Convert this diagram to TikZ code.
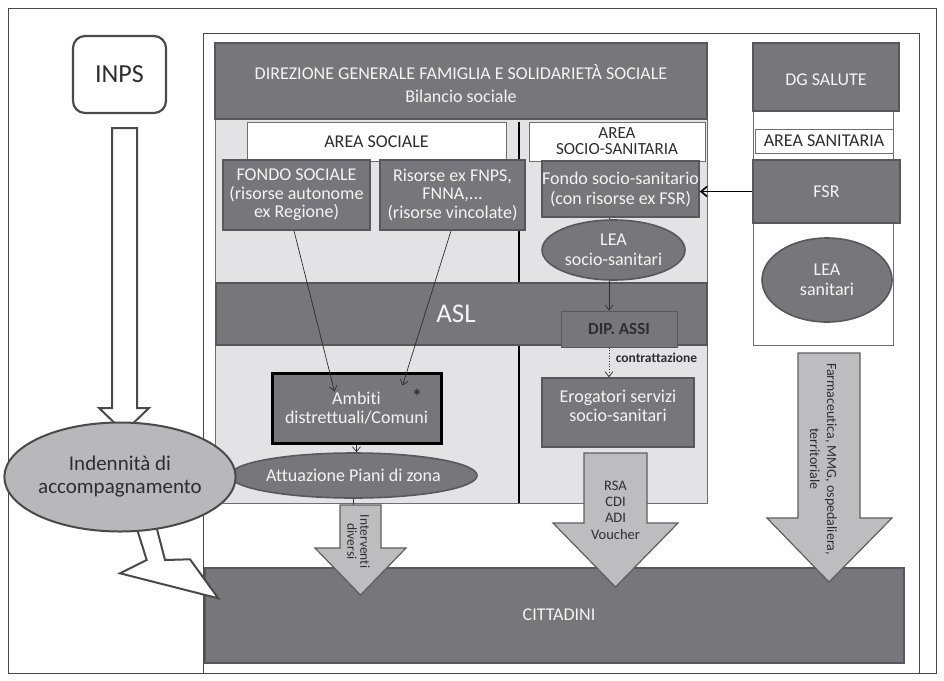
\documentclass[tikz,border=0pt]{standalone}
\usepackage{fontspec}
\setmainfont{Carlito}[Ligatures={NoCommon}]
\usetikzlibrary{arrows.meta,calc,shapes.geometric}
\definecolor{dk}{HTML}{77777B}
\definecolor{dkb}{HTML}{58585C}
\definecolor{pan}{HTML}{E3E3E5}
\definecolor{panb}{HTML}{6E6E72}
\definecolor{arf}{HTML}{BDBDC0}
\definecolor{arb}{HTML}{5E5E62}
\definecolor{elf}{HTML}{B8B8BB}
\definecolor{wt}{HTML}{F4F4F4}
\definecolor{txd}{HTML}{2E2E2E}
\definecolor{frm}{HTML}{4A4A4A}
\newcommand{\fsz}[2]{\fontsize{#1}{#2}\selectfont}
\begin{document}
\begin{tikzpicture}[x=1pt,y=-1pt,
  dbox/.style={draw=dkb,line width=1.6pt,fill=dk,text=wt,align=center,inner sep=0pt,font=\fsz{18}{18.5}},
  wbox/.style={draw=panb,line width=0.8pt,fill=white,text=txd,align=center,inner sep=0pt,font=\fsz{18}{15}},
  dell/.style={ellipse,draw=dkb,line width=1.6pt,fill=dk,text=wt,align=center,inner sep=0pt,font=\fsz{18}{19.5}},
  wtxt/.style={text=wt,align=center,inner sep=0pt},
  thinarr/.style={draw=txd,line width=0.7pt,-{Straight Barb[length=5pt,width=8pt]}},
  blockarr/.style={fill=arf,draw=arb,line width=1.2pt,line join=miter},
  hollow/.style={fill=white,draw=frm,line width=2pt,line join=miter},
  frame/.style={draw=frm,line width=0.9pt}]
\useasboundingbox (0,0) rectangle (944,680);
\fill[white] (0,0) rectangle (944,680);
% frames
\draw[frame] (8,8) rectangle (936,673);
\draw[frame] (203,33) rectangle (919,673);
% INPS
\node[draw=frm,line width=2.2pt,rounded corners=12pt,fill=white,minimum width=93,minimum height=77,inner sep=0pt,font=\fsz{26}{26},text=txd] (inps) at (119.5,74.5) {INPS};
\draw[hollow] (112,128) -- (137,128) -- (137,408) -- (149,408) -- (124,432) -- (99,408) -- (112,408) -- cycle;
% left panel
\node[draw=panb,line width=0.9pt,fill=pan,minimum width=492,minimum height=384,inner sep=0pt] (pnl) at (461,311) {};
\node[dbox,minimum width=492,minimum height=76] (head) at (461,81) {};
\node[wtxt,font=\fsz{18}{23}] (headt) at (461,84) {DIREZIONE GENERALE FAMIGLIA E SOLIDARIETÀ SOCIALE\\Bilancio sociale};
\node[wbox,minimum width=259,minimum height=39] (asoc) at (376.5,141.5) {AREA SOCIALE};
\node[wbox,minimum width=176,minimum height=39,font=\fsz{17}{16}] (ass) at (617,141.5) {AREA\\SOCIO-SANITARIA};
\draw[line width=2.6pt,black] (asoc.north east -| 519,0) -- (519,283);
\draw[line width=2.6pt,black] (519,345) -- (519,503);
\node[dbox,minimum width=147,minimum height=70] (fs) at (296.5,195) {FONDO SOCIALE\\(risorse autonome\\ex Regione)};
\node[dbox,minimum width=145,minimum height=70] (ris) at (452.5,195) {Risorse ex FNPS,\\FNNA,...\\(risorse vincolate)};
\node[dbox,minimum width=157,minimum height=56,font=\fsz{18}{20}] (fss) at (620.5,189) {Fondo socio-sanitario\\(con risorse ex FSR)};
\node[dell,minimum width=143,minimum height=60] (leass) at (613.5,250) {LEA\\socio-sanitari};
\node[dbox,minimum width=491,minimum height=62,font=\fsz{27}{27}] (asl) at (461.5,314) {\hspace*{-11pt}ASL};
\node[fill=dk,draw=dkb,line width=1pt,minimum width=116,minimum height=36,inner sep=0pt,font=\fsz{17}{17}\bfseries,text=txd] (dip) at (619,329) {DIP. ASSI};
\node[dbox,draw=black,line width=3pt,minimum width=169,minimum height=70] (amb) at (356.5,408) {Ambiti\\distrettuali/Comuni};
\node[text=txd,inner sep=0pt,font=\fsz{20}{20}\bfseries] (ast) at (417,396) {*};
\node[dell,minimum width=245,minimum height=45] (att) at (353.5,475.5) {Attuazione Piani di zona};
\node[dbox,minimum width=152,minimum height=69] (erog) at (618,412.5) {};
\node[wtxt,font=\fsz{18}{18.5}] (erogt) at (618,406) {Erogatori servizi\\socio-sanitari};
% right column
\node[draw=panb,line width=0.9pt,fill=white,minimum width=140,minimum height=234,inner sep=0pt] (dgcol) at (823,228) {};
\node[dbox,minimum width=146,minimum height=68] (dgs) at (826,77) {};
\node[wtxt,font=\fsz{18}{18}] (dgst) at (826,80) {DG SALUTE};
\node[wbox,minimum width=138,minimum height=24] (asan) at (824,141) {AREA SANITARIA};
\node[dbox,minimum width=147,minimum height=63] (fsr) at (826.5,191.5) {FSR};
\node[dell,minimum width=130,minimum height=84,font=\fsz{18}{20}] (leasan) at (827,280) {LEA\\sanitari};
% connectors
\coordinate (cx) at (609,0);
\draw[black,line width=1.6pt,-{Straight Barb[length=6pt,width=10pt]}] (fsr.west) -- (fsr.west -| fss.east);
\draw[draw=txd,line width=0.7pt] (cx |- fss.south) -- (cx |- leass.north);
\draw[thinarr] (cx |- leass.south) -- (cx |- dip.north);
\draw[thinarr,dotted] (cx |- dip.south) -- (cx |- erog.north);
\node[text=txd,inner sep=0pt,font=\fsz{13.5}{13.5}\bfseries] (contr) at (656.5,358) {contrattazione};
\draw[thinarr] ($(fs.south)+(-2.5,0)$) -- ($(amb.north west)+(64,20)$);
\draw[thinarr] ($(ris.south)+(-1.5,0)$) -- ($(amb.north west)+(132,14)$);
\draw[thinarr] (amb.south) -- (amb.south |- att.north);
% cittadini
\node[dbox,draw=dkb,minimum width=699,minimum height=95] (cit) at (554.5,615.5) {};
\node[wtxt,font=\fsz{18}{18}] (citt) at (559,615) {CITTADINI};
% block arrows
\coordinate (intop) at (360.5,505);
\draw[draw=txd,line width=0.7pt] (att.south) -- (att.south |- intop);
\draw[blockarr] (340,505) -- (381,505) -- (381,548) -- (406,548) -- (360.5,595) -- (315,548) -- (340,548) -- cycle;
\node[rotate=-90,align=center,inner sep=0pt,text=txd,font=\fsz{13.5}{13}] (intt) at (358.5,541.5) {Interventi\\diversi};
\draw[blockarr] (584,453) -- (647,453) -- (647,523) -- (678,523) -- (615.5,587) -- (553,523) -- (584,523) -- cycle;
\node[align=center,inner sep=0pt,text=txd,font=\fsz{14.5}{16.3}] (rsat) at (615.5,510) {RSA\\CDI\\ADI\\Voucher};
\draw[blockarr] (798,353) -- (860,353) -- (860,518) -- (892,518) -- (829,582) -- (767,518) -- (798,518) -- cycle;
\node[rotate=-90,align=center,inner sep=0pt,text=txd,font=\fsz{14}{17}] (farmt) at (823.5,459) {Farmaceutica, MMG, ospedaliera,\\territoriale};
% indennita
\draw[hollow] (136.7,528) -- (146.7,560) -- (120,573.3) -- (218.3,598.3) -- (190,559.3) -- (165,560) -- (156.7,528) -- cycle;
\node[ellipse,draw=frm,line width=2pt,fill=elf,minimum width=190,minimum height=109,inner sep=0pt,align=center,text=txd,font=\fsz{21}{23}] (ind) at (120,477) {Indennità di\\accompagnamento};
\end{tikzpicture}
\end{document}
